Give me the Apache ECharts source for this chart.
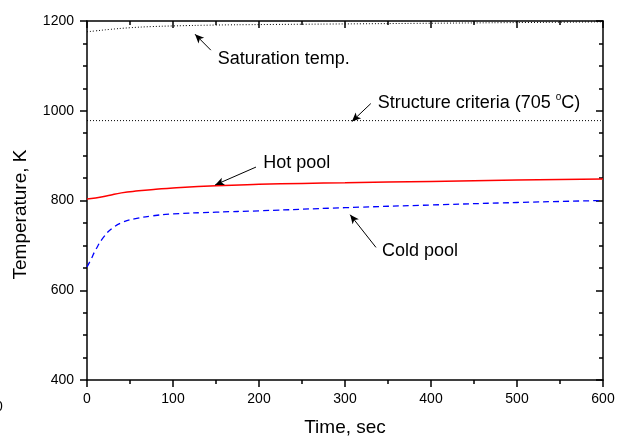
<!DOCTYPE html>
<html>
<head>
<meta charset="utf-8">
<script src="https://cdn.jsdelivr.net/npm/echarts@6/dist/echarts.min.js"></script>
<style>html,body{margin:0;padding:0;background:#fff;}#c{width:625px;height:442px;}</style>
</head>
<body>
<div id="c"></div>
<script>
// ---- data ----
const xTicks = [0, 100, 200, 300, 400, 500, 600];
const yTicks = [400, 600, 800, 1000, 1200];
const saturation = [[0,1176],[10,1178],[25,1181],[50,1185],[75,1187.5],[100,1189],[150,1191],[200,1192],[300,1193.5],[400,1195],[500,1196.5],[600,1198]];
const structure = [[0,978],[600,978]];
const hotPool = [[0,803.5],[10,805.5],[25,811],[40,817],[60,821.5],[80,825],[100,828],[150,833],[200,836],[250,838],[300,839.5],[400,842.5],[500,845.5],[600,848]];
const coldPool = [[0,652],[5,670],[10,690],[20,720],[30,739],[42,752],[55,759],[75,765.5],[100,770],[150,774],[200,777],[300,784],[400,790],[500,795.5],[600,800]];
// annotation arrows: [tail, tip] in data units
const arrowSat = [[144,1135],[125.6,1170.6]];
const arrowStruct = [[330,1016],[308,976]];
const arrowHot = [[196.5,874.5],[149,834.7]];
const arrowCold = [[336,695.5],[306,768.4]];
// annotation texts: [t, value, text]
const notes = [
  [152, 1115, 'Saturation temp.'],
  [338, 1018, 'Structure criteria (705 {sup|o}C)'],
  [205, 883, 'Hot pool'],
  [343, 687, 'Cold pool']
];

const FONT = '"Liberation Sans", Arial, sans-serif';
const chart = echarts.init(document.getElementById('c'), null, {renderer: 'canvas'});
const axisLineStyle = {color: '#000', width: 1.5};
function arrowLine(pair) {
  return {
    silent: true,
    symbol: ['none', 'arrow'],
    symbolSize: [6, 9],
    lineStyle: {color: '#000', width: 1, type: 'solid'},
    label: {show: false},
    data: [[{coord: pair[0]}, {coord: pair[1]}]]
  };
}
const option = {
  animation: false,
  backgroundColor: '#fff',
  grid: {left: 87, right: 22, top: 21, bottom: 59},
  xAxis: [{
    type: 'value', min: xTicks[0], max: xTicks[xTicks.length-1], interval: 100,
    position: 'bottom',
    name: 'Time, sec', nameLocation: 'middle', nameGap: 38,
    nameTextStyle: {fontFamily: FONT, fontSize: 19, color: '#000'},
    axisLine: {show: true, onZero: false, lineStyle: axisLineStyle},
    axisTick: {show: true, inside: false, length: 7, lineStyle: {color: '#000', width: 1.5}},
    minorTick: {show: true, splitNumber: 2, length: 4, lineStyle: {color: '#000', width: 1.5}},
    axisLabel: {fontFamily: FONT, fontSize: 14, color: '#000', margin: 12, formatter: v => String(v)},
    splitLine: {show: false}
  }, {
    type: 'value', min: xTicks[0], max: xTicks[xTicks.length-1], interval: 100,
    position: 'top',
    axisLine: {show: true, onZero: false, lineStyle: axisLineStyle},
    axisTick: {show: true, inside: true, length: 7, lineStyle: {color: '#000', width: 1.5}},
    minorTick: {show: true, splitNumber: 2, length: 4, lineStyle: {color: '#000', width: 1.5}},
    axisLabel: {show: false},
    splitLine: {show: false}
  }],
  yAxis: [{
    type: 'value', min: yTicks[0], max: yTicks[yTicks.length-1], interval: 200,
    position: 'left',
    name: 'Temperature, K', nameLocation: 'middle', nameGap: 57, nameRotate: 90,
    nameTextStyle: {fontFamily: FONT, fontSize: 19, color: '#000', padding: [0, 28, 0, 0]},
    axisLine: {show: true, onZero: false, lineStyle: axisLineStyle},
    axisTick: {show: true, inside: false, length: 7, lineStyle: {color: '#000', width: 1.5}},
    minorTick: {show: true, splitNumber: 4, length: 4, lineStyle: {color: '#000', width: 1.5}},
    axisLabel: {fontFamily: FONT, fontSize: 14, color: '#000', margin: 13, formatter: v => String(v)},
    splitLine: {show: false}
  }, {
    type: 'value', min: yTicks[0], max: yTicks[yTicks.length-1], interval: 200,
    position: 'right',
    axisLine: {show: true, onZero: false, lineStyle: axisLineStyle},
    axisTick: {show: true, inside: true, length: 7, lineStyle: {color: '#000', width: 1.5}},
    minorTick: {show: true, splitNumber: 4, length: 4, lineStyle: {color: '#000', width: 1.5}},
    axisLabel: {show: false},
    splitLine: {show: false}
  }],
  graphic: [{
    type: 'text', left: -5, top: 400, silent: true,
    style: {text: '0', font: '14px ' + FONT, fill: '#000'}
  }],
  series: [
    {type: 'line', name: 'Saturation temp.', data: saturation, smooth: true, symbol: 'none',
     lineStyle: {color: '#000', width: 1, type: [1, 2]}, markLine: arrowLine(arrowSat), z: 3},
    {type: 'line', name: 'Structure criteria', data: structure, symbol: 'none',
     lineStyle: {color: '#000', width: 1, type: [1, 2]}, markLine: arrowLine(arrowStruct), z: 3},
    {type: 'line', name: 'Hot pool', data: hotPool, smooth: true, symbol: 'none',
     lineStyle: {color: '#ff0000', width: 1.5, type: 'solid'}, markLine: arrowLine(arrowHot), z: 3},
    {type: 'line', name: 'Cold pool', data: coldPool, smooth: true, symbol: 'none',
     lineStyle: {color: '#0000ff', width: 1.3, type: [6, 4]}, markLine: arrowLine(arrowCold), z: 3},
    {type: 'scatter', name: 'notes', silent: true, symbolSize: 0,
     itemStyle: {color: '#000', opacity: 1},
     data: notes.map(n => ({value: [n[0], n[1]], text: n[2]})),
     label: {
       show: true, position: 'right', distance: 0,
       formatter: p => p.data.text,
       fontFamily: FONT, fontSize: 18, color: '#000', opacity: 1, textBorderWidth: 0,
       rich: {sup: {fontFamily: FONT, fontSize: 10, color: '#000', padding: [0, 0, 10, 0]}}
     }, z: 4}
  ]
};
chart.setOption(option);
</script>
</body>
</html>
